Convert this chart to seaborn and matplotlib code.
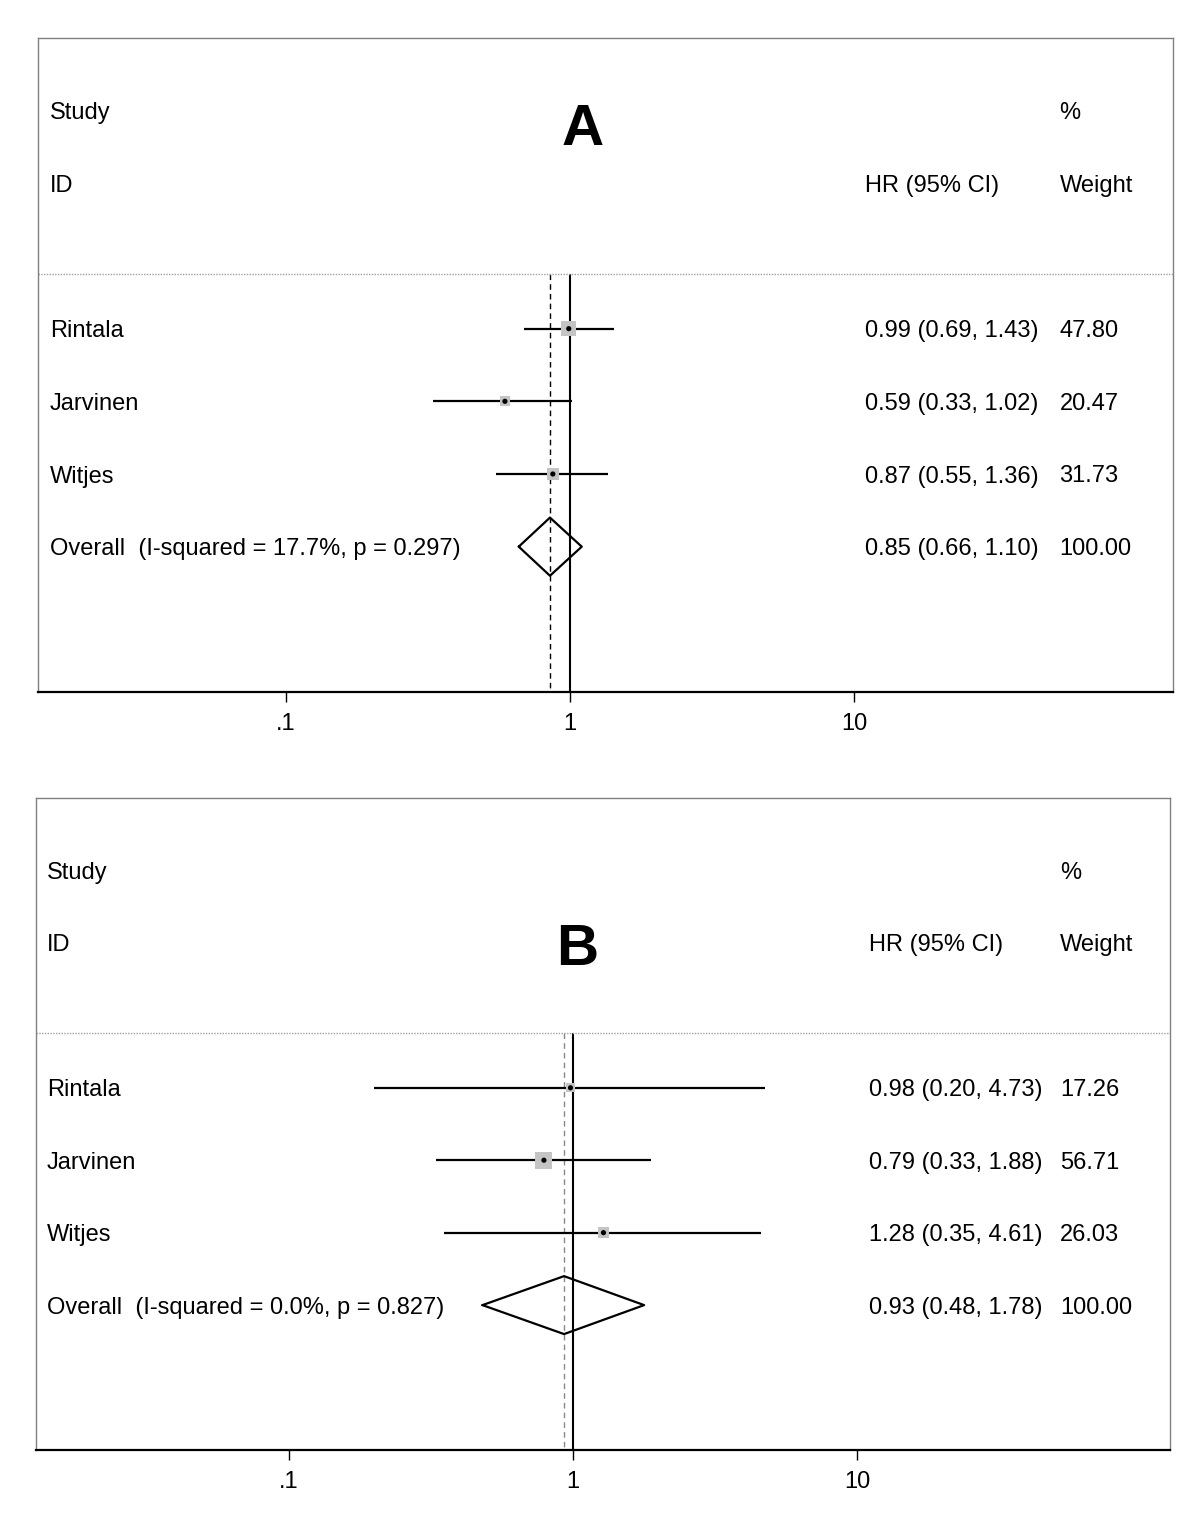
import numpy as np
import matplotlib
matplotlib.use("Agg")
import matplotlib.pyplot as plt
import matplotlib.transforms as mtransforms
import seaborn as sns
import pandas as pd

# Data
studies = ["Rintala", "Jarvinen", "Witjes"]

# Panel A
hr_a = [0.99, 0.59, 0.87]
lo_a = [0.69, 0.33, 0.55]
hi_a = [1.43, 1.02, 1.36]
wt_a = [47.80, 20.47, 31.73]
overall_a = (0.85, 0.66, 1.10)
het_a = "Overall  (I-squared = 17.7%, p = 0.297)"

# Panel B
hr_b = [0.98, 0.79, 1.28]
lo_b = [0.20, 0.33, 0.35]
hi_b = [4.73, 1.88, 4.61]
wt_b = [17.26, 56.71, 26.03]
overall_b = (0.93, 0.48, 1.78)
het_b = "Overall  (I-squared = 0.0%, p = 0.827)"

tick_vals = [0.1, 1, 10]
tick_labels = [".1", "1", "10"]

sns.set_style("white")
plt.rcParams["font.family"] = ["Liberation Sans", "DejaVu Sans"]
plt.rcParams["text.color"] = "black"
plt.rcParams["xtick.color"] = "black"

fig = plt.figure(figsize=(12, 15.38), dpi=100)


def forest(ax, hr, lo, hi, wt, overall, het, letter, letter_pos, xlim,
           cols, box_k, dash_style):
    rows = np.arange(4, 4 + len(hr))
    df = pd.DataFrame({"hr": hr, "row": rows, "wt": wt})
    ax.set_xscale("log")
    ax.set_xlim(*xlim)
    ax.set_ylim(9, 0)

    sep = 3.25
    # reference lines
    ax.vlines(1, sep, 9, color="black", lw=1.5, zorder=1)
    ax.vlines(overall[0], sep, 9, color=dash_style[0], lw=dash_style[1],
              linestyles=(0, (4, 3)), zorder=1)

    # CI lines
    ax.hlines(rows, lo, hi, color="black", lw=1.6, zorder=2)

    # weight boxes
    sizes = (box_k * np.sqrt(np.array(wt)) * 0.72) ** 2
    ax.scatter(df["hr"], df["row"], s=sizes, marker="s", color="#c4c4c4",
               edgecolor="none", zorder=3)
    sns.scatterplot(data=df, x="hr", y="row", ax=ax, color="black", s=14,
                    edgecolor="none", zorder=4, legend=False)

    # overall diamond
    est, dlo, dhi = overall
    yo = rows[-1] + 1
    h = 0.40
    ax.plot([dlo, est, dhi, est, dlo], [yo, yo - h, yo, yo + h, yo],
            color="black", lw=1.6, zorder=3)

    # separator
    ax.axhline(sep, color="#a0a0a0", lw=1, linestyle=(0, (1, 1)))

    tr = mtransforms.blended_transform_factory(ax.transAxes, ax.transData)
    fs = 17
    kw = dict(transform=tr, fontsize=fs, va="center_baseline")
    xs, xh, xw = cols
    ax.text(xs, 1, "Study", **kw)
    ax.text(xs, 2, "ID", **kw)
    ax.text(xh, 2, "HR (95% CI)", **kw)
    ax.text(xw, 1, "%", **kw)
    ax.text(xw, 2, "Weight", **kw)
    for r, s, e, l, u, w in zip(rows, studies, hr, lo, hi, wt):
        ax.text(xs, r, s, **kw)
        ax.text(xh, r, f"{e:.2f} ({l:.2f}, {u:.2f})", **kw)
        ax.text(xw, r, f"{w:.2f}", **kw)
    ax.text(xs, yo, het, **kw)
    ax.text(xh, yo, f"{est:.2f} ({dlo:.2f}, {dhi:.2f})", **kw)
    ax.text(xw, yo, f"{100:.2f}", **kw)

    ax.text(letter_pos[0], letter_pos[1], letter, transform=tr, fontsize=42,
            fontweight="bold", ha="center", va="center")

    # axes styling
    ax.set_yticks([])
    ax.set_xticks(tick_vals)
    ax.set_xticklabels(tick_labels, fontsize=17)
    ax.minorticks_off()
    ax.tick_params(axis="x", bottom=True, length=7, width=1, pad=8,
                   direction="out", color="black", labelcolor="black")
    ax.set_xlabel("")
    ax.set_ylabel("")
    for side in ["left", "top", "right"]:
        ax.spines[side].set_color("#808080")
        ax.spines[side].set_linewidth(1)
    ax.spines["bottom"].set_color("black")
    ax.spines["bottom"].set_linewidth(1.6)


ax_a = fig.add_axes([38 / 1200, 1 - 692 / 1538, 1135 / 1200, 654 / 1538])
forest(ax_a, hr_a, lo_a, hi_a, wt_a, overall_a, het_a, "A", (0.48, 1.27),
       (10 ** ((38 - 570) / 284), 10 ** ((1173 - 570) / 284)),
       (0.0106, 0.729, 0.900), 2.2, ("black", 1.0))

ax_b = fig.add_axes([36 / 1200, 1 - 1450 / 1538, 1134 / 1200, 652 / 1538])
forest(ax_b, hr_b, lo_b, hi_b, wt_b, overall_b, het_b, "B", (0.477, 2.1),
       (10 ** ((36 - 573) / 284), 10 ** ((1170 - 573) / 284)),
       (0.0097, 0.735, 0.903), 2.25, ("#888888", 1.0))

fig.savefig("out.png", dpi=100, facecolor="white")
